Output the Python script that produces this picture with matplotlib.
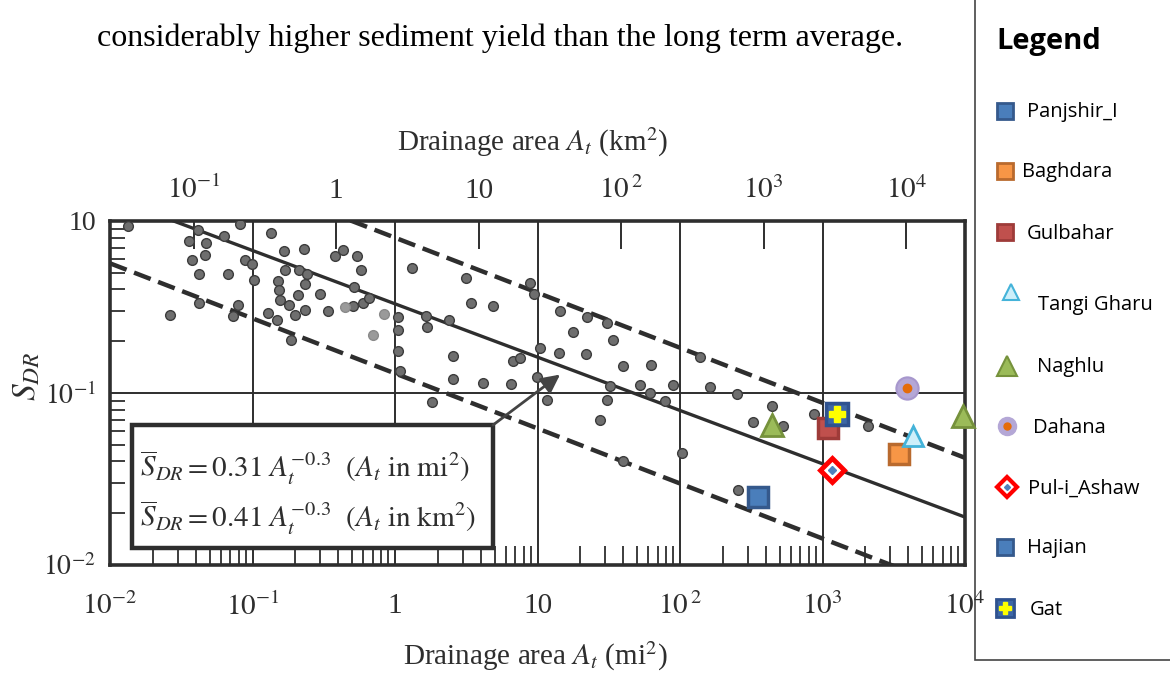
import numpy as np
import matplotlib
matplotlib.use("Agg")
import matplotlib.pyplot as plt
from matplotlib.patches import Rectangle
from matplotlib.ticker import FixedLocator, FixedFormatter, NullFormatter, NullLocator, LogLocator

plt.rcParams['mathtext.fontset'] = 'stix'
plt.rcParams['font.family'] = ['Liberation Serif', 'DejaVu Serif']

# ---------------- data ----------------
area_mi2 = [0.0133, 0.0817, 0.0412, 0.0360, 0.0472, 0.0628, 0.0375, 0.0465, 0.0891, 0.0987,
            0.0419, 0.0670, 0.103, 0.0424, 0.0264, 0.0787, 0.0733, 0.135, 0.167, 0.229,
            0.377, 0.434, 0.538, 0.574, 0.169, 0.213, 0.240, 0.233, 0.150, 0.154,
            0.210, 0.298, 0.515, 0.156, 0.179, 0.129, 0.200, 0.233, 0.337, 0.510,
            0.600, 0.660, 0.149, 0.186, 1.05, 1.05, 1.05, 1.08, 1.32, 3.15,
            8.86, 9.44, 3.40, 4.85, 1.64, 1.67, 2.40, 2.54, 2.54, 4.12,
            6.52, 6.70, 7.54, 10.4, 9.89, 14.4, 22.4, 30.6, 17.8, 33.7,
            14.2, 21.8, 40.0, 62.3, 32.3, 52.4, 89.8, 138, 162, 1.81,
            11.6, 30.6, 27.5, 61.5, 78.5, 39.6, 103, 250, 445, 324,
            531, 872, 2100, 256]
sdr = [0.93, 0.96, 0.881, 0.769, 0.748, 0.819, 0.593, 0.637, 0.593, 0.565,
       0.491, 0.495, 0.455, 0.333, 0.283, 0.324, 0.279, 0.853, 0.669, 0.686,
       0.627, 0.678, 0.622, 0.516, 0.521, 0.519, 0.493, 0.431, 0.447, 0.399,
       0.371, 0.378, 0.413, 0.345, 0.323, 0.293, 0.286, 0.304, 0.299, 0.322,
       0.334, 0.358, 0.264, 0.203, 0.277, 0.231, 0.176, 0.134, 0.536, 0.465,
       0.434, 0.374, 0.333, 0.321, 0.282, 0.243, 0.267, 0.164, 0.120, 0.115,
       0.113, 0.153, 0.160, 0.182, 0.124, 0.299, 0.276, 0.254, 0.225, 0.203,
       0.171, 0.169, 0.143, 0.145, 0.110, 0.111, 0.111, 0.163, 0.108, 0.0892,
       0.0913, 0.0908, 0.070, 0.1005, 0.0903, 0.040, 0.0448, 0.0986, 0.0839, 0.0676,
       0.0647, 0.0753, 0.064, 0.0274]
faint_area_mi2 = [0.448, 0.834, 0.705]
faint_sdr = [0.315, 0.287, 0.217]

# fitted line and envelopes: S = coef * A^exp
fit_coef, fit_exp = 0.33, -0.31
upper_coef, upper_exp = 0.80, -0.32
lower_coef, lower_exp = 0.13, -0.32

# reservoirs (area in mi2, SDR)
site_names = ['Panjshir_I', 'Baghdara', 'Gulbahar', 'Tangi Gharu', 'Naghlu',
              'Dahana', 'Pul-i_Ashaw', 'Hajian', 'Gat']
panjshir_area, panjshir_sdr = [352], [0.0248]
baghdara_area, baghdara_sdr = [3444], [0.0441]
gulbahar_area, gulbahar_sdr = [1089], [0.0627]
tangi_area, tangi_sdr = [4315], [0.0561]
naghlu_area, naghlu_sdr = [441, 9750], [0.0651, 0.0734]
dahana_area, dahana_sdr = [3900], [0.1067]
pul_area, pul_sdr = [1175], [0.0357]
hajian_area, hajian_sdr = [], []
gat_area, gat_sdr = [1259], [0.0758]

KM2_PER_MI2 = 2.59

# ---------------- figure ----------------
W, H = 1170, 675
fig = plt.figure(figsize=(W / 100, H / 100), dpi=100)
fig.patch.set_facecolor('white')

L, R, T, B = 110, 965, 221, 565
ax = fig.add_axes([L / W, 1 - B / H, (R - L) / W, (B - T) / H])
ax.set_zorder(2)
ax.set_xscale('log')
ax.set_yscale('log')
ax.set_xlim(1e-2, 1e4)
ax.set_ylim(1e-2, 1)

ink = '#2e2e2e'
for s in ax.spines.values():
    s.set_linewidth(2.6)
    s.set_color(ink)

# grid lines
for xv in [1e-1, 1, 10, 100, 1000]:
    ax.axvline(xv, color=ink, lw=1.4, zorder=1)
ax.axhline(0.1, color=ink, lw=1.4, zorder=1)

# lines
A = np.logspace(-2, 4, 300)
ax.plot(A, fit_coef * A ** fit_exp, color=ink, lw=2.4, zorder=2)
ax.plot(A, upper_coef * A ** upper_exp, color=ink, lw=3.2, ls=(0, (4, 1.8)), zorder=2)
ax.plot(A, lower_coef * A ** lower_exp, color=ink, lw=3.2, ls=(0, (4, 1.8)), zorder=2)

# data points
ax.plot(area_mi2, sdr, 'o', ms=7, mfc='#6e6e6e', mec='#3c3c3c', mew=1.0, zorder=3)
ax.plot(faint_area_mi2, faint_sdr, 'o', ms=7, mfc='#9a9a9a', mec='#8a8a8a', mew=1.0, zorder=3)

# ticks
ax.yaxis.set_major_locator(FixedLocator([1e-2, 1e-1, 1]))
ax.yaxis.set_major_formatter(FixedFormatter(['$10^{-2}$', '$10^{-1}$', '10']))
ax.yaxis.set_minor_locator(LogLocator(base=10, subs=np.arange(2, 10)))
ax.yaxis.set_minor_formatter(NullFormatter())
ax.xaxis.set_major_locator(FixedLocator([1e-2, 1e-1, 1, 10, 100, 1000, 1e4]))
ax.xaxis.set_major_formatter(FixedFormatter(['$10^{-2}$', '$10^{-1}$', '1', '10',
                                             '$10^{\\,2}$', '$10^{3}$', '$10^{4}$']))
ax.xaxis.set_minor_locator(LogLocator(base=10, subs=np.arange(2, 10)))
ax.xaxis.set_minor_formatter(NullFormatter())
ax.tick_params(which='major', direction='in', length=0, labelsize=21, colors=ink)
ax.tick_params(axis='x', which='major', pad=20)
ax.tick_params(axis='y', which='major', pad=10, labelsize=20)
ax.tick_params(axis='x', which='minor', direction='in', length=14, width=1.3, color=ink)
ax.tick_params(axis='y', which='minor', direction='in', length=11, width=1.3, color=ink)

sec = ax.secondary_xaxis('top', functions=(lambda x: x * KM2_PER_MI2, lambda x: x / KM2_PER_MI2))
sec.set_xticks([0.1, 1, 10, 100, 1000, 10000])
sec.set_xticklabels(['$10^{-1}$', '1', '10', '$10^{\\,2}$', '$10^{3}$', '$10^{4}$'])
sec.xaxis.set_minor_locator(NullLocator())
sec.tick_params(direction='in', length=20, width=1.4, color=ink, labelsize=21, pad=12, labelcolor=ink)
sec.spines['top'].set_visible(False)

# reservoir markers
ax.plot(panjshir_area, panjshir_sdr, 's', ms=15, mfc='#4A7EBB', mec='#35598C', mew=2.5, zorder=5)
ax.plot(baghdara_area, baghdara_sdr, 's', ms=15, mfc='#F79646', mec='#B96A2E', mew=2.5, zorder=5)
ax.plot(gulbahar_area, gulbahar_sdr, 's', ms=15, mfc='#C0504D', mec='#9E3B39', mew=2.5, zorder=5)
ax.plot(tangi_area, tangi_sdr, '^', ms=14, mfc='#CDEFFA', mec='#44B3D9', mew=2, zorder=5)
ax.plot(naghlu_area, naghlu_sdr, '^', ms=16, mfc='#9BBB59', mec='#76923C', mew=2, zorder=5,
        clip_on=False)
ax.plot(dahana_area, dahana_sdr, 'o', ms=16, mfc='#B4A7D6', mec='#A797CD', mew=1.5, zorder=5)
ax.plot(dahana_area, dahana_sdr, 'o', ms=6, mfc='#E46C0A', mec='#E46C0A', zorder=6)
ax.plot(pul_area, pul_sdr, 'D', ms=12, mfc='white', mec='#FF0000', mew=3.5, zorder=5)
ax.plot(pul_area, pul_sdr, 'D', ms=4, mfc='#4F81BD', mec='#4F81BD', zorder=6)
ax.plot(hajian_area, hajian_sdr, 's', ms=15, mfc='#4A7EBB', mec='#35598C', mew=2.5, zorder=5)
ax.plot(gat_area, gat_sdr, 's', ms=16, mfc='#3D67A6', mec='#2F528F', mew=2.5, zorder=5)
ax.plot(gat_area, gat_sdr, 'P', ms=11, mfc='#FFFF00', mec='#FFFF00', zorder=6)

# formula box
box = Rectangle((0.0257, 0.049), 0.4223, 0.358, transform=ax.transAxes,
                facecolor='white', edgecolor=ink, lw=3.2, zorder=7)
ax.add_patch(box)
ax.text(0.035, 0.282, r'$\overline{S}_{DR} = 0.31\ A_t^{-0.3}\ \ (A_t\ \mathrm{in\ mi}^2)$',
        transform=ax.transAxes, fontsize=21, va='center', ha='left', color=ink, zorder=8)
ax.text(0.035, 0.137, r'$\overline{S}_{DR} = 0.41\ A_t^{-0.3}\ \ (A_t\ \mathrm{in\ km}^2)$',
        transform=ax.transAxes, fontsize=21, va='center', ha='left', color=ink, zorder=8)
ax.annotate('', xy=(14.4, 0.128), xycoords='data', xytext=(0.448, 0.407),
            textcoords='axes fraction',
            arrowprops=dict(arrowstyle='-|>', lw=2, color='#444444', mutation_scale=28,
                            shrinkA=0, shrinkB=0), zorder=8)

# overlay axes for free text and legend (pixel coordinates)
ov = fig.add_axes([0, 0, 1, 1], facecolor='none')
ov.set_zorder(1)
ov.set_xlim(0, W)
ov.set_ylim(H, 0)
ov.axis('off')

ov.text(500, 38, 'considerably higher sediment yield than the long term average.',
        fontsize=23, ha='center', va='center', color='black')
ov.text(533, 142, r'Drainage area $A_t$ (km$^2$)', fontsize=21, ha='center', va='center', color=ink)
ov.text(535, 656, r'Drainage area $A_t$ (mi$^2$)', fontsize=21, ha='center', va='center', color=ink)
ov.text(27, 376, r'$S_{DR}$', fontsize=24, ha='center', va='center', rotation=90, color=ink)

# legend box
ov.add_patch(Rectangle((975, -2), 200, 662, facecolor='white', edgecolor='#444444', lw=1.2))
sans = ['Open Sans', 'DejaVu Sans']
ov.text(996, 42, 'Legend', fontsize=21, fontweight='bold', family=sans, ha='left', va='center')
leg_y = [111, 171, 232, 292, 366, 426, 487, 547, 608]
txt_y = [112, 172, 234, 305, 367, 428, 489, 548, 610]
txt_x = [1027, 1022, 1027, 1038, 1037, 1033, 1028, 1027, 1030]
mk = dict(ms=11.5, zorder=5)
ov.plot([1005], [leg_y[0]], 's', mfc='#4A7EBB', mec='#35598C', mew=2, **mk)
ov.plot([1005], [leg_y[1]], 's', mfc='#F79646', mec='#B96A2E', mew=2, **mk)
ov.plot([1005], [leg_y[2]], 's', mfc='#C0504D', mec='#9E3B39', mew=2, **mk)
ov.plot([1011], [leg_y[3]], '^', mfc='#CDEFFA', mec='#44B3D9', mew=1.5, ms=11, zorder=5)
ov.plot([1007], [leg_y[4]], '^', mfc='#9BBB59', mec='#76923C', mew=1.5, ms=14, zorder=5)
ov.plot([1007], [leg_y[5]], 'o', mfc='#B4A7D6', mec='#B4A7D6', ms=13, zorder=5)
ov.plot([1007], [leg_y[5]], 'o', mfc='#E46C0A', mec='#E46C0A', ms=5, zorder=6)
ov.plot([1007], [leg_y[6]], 'D', mfc='white', mec='#FF0000', mew=3, ms=10, zorder=5)
ov.plot([1007], [leg_y[6]], 'D', mfc='#4F81BD', mec='#4F81BD', ms=3, zorder=6)
ov.plot([1005], [leg_y[7]], 's', mfc='#4A7EBB', mec='#35598C', mew=2, **mk)
ov.plot([1005], [leg_y[8]], 's', mfc='#3D67A6', mec='#2F528F', mew=2, ms=13, zorder=5)
ov.plot([1005], [leg_y[8]], 'P', mfc='#FFFF00', mec='#FFFF00', ms=9, zorder=6)
for name, x, y in zip(site_names, txt_x, txt_y):
    ov.text(x, y, name, fontsize=14.5, family=sans, ha='left', va='center', color='black')

fig.savefig('out.png', dpi=100)
